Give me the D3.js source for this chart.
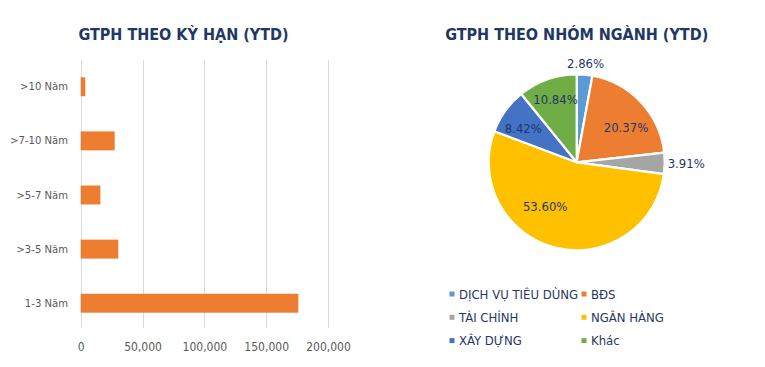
<!DOCTYPE html>
<html>
<head>
<meta charset="utf-8">
<script src="https://cdn.jsdelivr.net/npm/d3@7"></script>
<style>
  body { margin: 0; background: #fff; }
  svg { display: block; font-family: "DejaVu Sans Condensed", "DejaVu Sans", sans-serif; }
</style>
</head>
<body>
<svg id="chart" width="765" height="367"></svg>
<script>
// bar chart: GTPH theo kỳ hạn
const termCategories = ['>10 Năm', '>7-10 Năm', '>5-7 Năm', '>3-5 Năm', '1-3 Năm']
const termValues = [3700, 27500, 15900, 30400, 176000]
const termTicks = [0, 50000, 100000, 150000, 200000]

// pie chart: GTPH theo nhóm ngành
const sectorNames = ['DỊCH VỤ TIÊU DÙNG', 'BĐS', 'TÀI CHÍNH', 'NGÂN HÀNG', 'XÂY DỰNG', 'Khác']
const sectorShares = [2.86, 20.37, 3.91, 53.60, 8.42, 10.84]
const sectorColors = ['#5B9BD5', '#ED7D31', '#A5A5A5', '#FFC000', '#4472C4', '#70AD47']

// excel "best fit" moves some inside labels off the centroid
const labelNudge = { 'BĐS': [3, 8], 'NGÂN HÀNG': [-16, -17], 'XÂY DỰNG': [-2, 3], 'Khác': [0, -3] }

const navy = '#1F3864'
const font = '"DejaVu Sans Condensed", "DejaVu Sans", sans-serif'
const svg = d3.select('#chart')

// ---- bar chart ----
const x = d3.scaleLinear().domain([0, 200000]).range([80.7, 328])
const y = d3.scaleBand().domain(termCategories).range([60, 330]).paddingInner(0.65).paddingOuter(0.32)

svg.append('text')
    .attr('x', 183.5)
    .attr('y', 40)
    .attr('text-anchor', 'middle')
    .attr('font-size', 16)
    .attr('font-weight', 'bold')
    .attr('fill', navy)
    .text('GTPH THEO KỲ HẠN (YTD)')

svg.append('g')
    .selectAll('line')
    .data(termTicks)
    .join('line')
    .attr('x1', d => Math.round(x(d)) + 0.5)
    .attr('x2', d => Math.round(x(d)) + 0.5)
    .attr('y1', 60)
    .attr('y2', 328)
    .attr('stroke', '#D9D9D9')
    .attr('stroke-width', 1)

const xAxis = svg.append('g')
    .attr('transform', 'translate(0,339)')
    .call(d3.axisBottom(x).tickValues(termTicks).tickSize(0).tickFormat(d3.format(',')))
xAxis.select('.domain').remove()
xAxis.selectAll('text')
    .attr('font-size', 12)
    .attr('fill', '#595959')
    .attr('font-family', font)

const yAxis = svg.append('g')
    .attr('transform', 'translate(74,0)')
    .call(d3.axisLeft(y).tickSize(0).tickPadding(6))
yAxis.select('.domain').remove()
yAxis.selectAll('text')
    .attr('font-size', 11.2)
    .attr('fill', '#595959')
    .attr('font-family', font)

svg.append('g')
    .selectAll('rect')
    .data(termValues)
    .join('rect')
    .attr('x', x(0))
    .attr('y', (d, i) => y(termCategories[i]))
    .attr('width', d => x(d) - x(0))
    .attr('height', y.bandwidth())
    .attr('fill', '#ED7D31')

// ---- pie chart ----
const cx = 576.7, cy = 162.3, r = 88

svg.append('text')
    .attr('x', cx)
    .attr('y', 40)
    .attr('text-anchor', 'middle')
    .attr('font-size', 16)
    .attr('font-weight', 'bold')
    .attr('fill', navy)
    .text('GTPH THEO NHÓM NGÀNH (YTD)')

const pie = d3.pie().sort(null).value(d => d)
const arcs = pie(sectorShares)
const arc = d3.arc().innerRadius(0).outerRadius(r)
const labelArc = d3.arc().innerRadius(r * 0.72).outerRadius(r * 0.72)

const gPie = svg.append('g').attr('transform', `translate(${cx},${cy})`)

gPie.selectAll('path')
    .data(arcs)
    .join('path')
    .attr('d', arc)
    .attr('fill', (d, i) => sectorColors[i])
    .attr('stroke', '#fff')
    .attr('stroke-width', 2.2)
    .attr('stroke-linejoin', 'round')

gPie.selectAll('text')
    .data(arcs)
    .join('text')
    .each(function (d) {
        const mid = (d.startAngle + d.endAngle) / 2
        const t = d3.select(this)
        if (d.data < 5) {
            const side = Math.abs(Math.sin(mid)) > 0.5
            const rr = side ? r + 3 : r + 11
            const px = Math.sin(mid) * rr, py = -Math.cos(mid) * rr
            const anchor = side ? (Math.sin(mid) > 0 ? 'start' : 'end') : 'middle'
            t.attr('x', px).attr('y', py).attr('text-anchor', anchor)
        } else {
            const c = labelArc.centroid(d)
            const n = labelNudge[sectorNames[d.index]] || [0, 0]
            t.attr('x', c[0] + n[0]).attr('y', c[1] + n[1]).attr('text-anchor', 'middle')
        }
    })
    .attr('dy', '0.35em')
    .attr('font-size', 13)
    .attr('fill', navy)
    .text(d => d3.format('.2f')(d.data) + '%')

// legend
const legendItems = svg.append('g')
    .selectAll('g')
    .data(sectorNames)
    .join('g')
    .attr('transform', (d, i) => `translate(${i % 2 === 0 ? 449.5 : 581.5},${294 + Math.floor(i / 2) * 23.3})`)

legendItems.append('rect')
    .attr('x', 0)
    .attr('y', -2.5)
    .attr('width', 5)
    .attr('height', 5)
    .attr('fill', (d, i) => sectorColors[i])

legendItems.append('text')
    .attr('x', 9.5)
    .attr('dy', '0.35em')
    .attr('font-size', 13)
    .attr('fill', navy)
    .text(d => d)
</script>
</body>
</html>
